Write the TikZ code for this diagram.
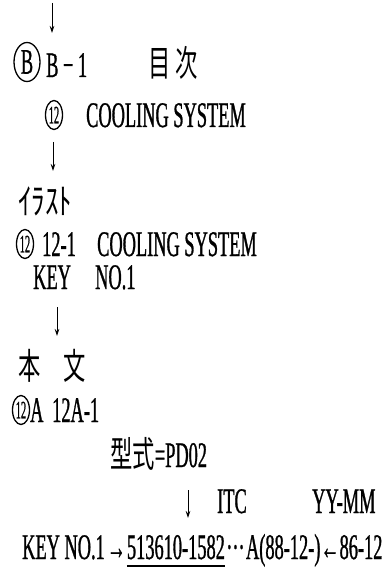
\documentclass[tikz,border=0pt]{standalone}
\usepackage{fontspec}
\setmainfont{Liberation Serif}[FakeStretch=0.51,FakeBold=0.8]
\newfontfamily\jpfont{Noto Sans CJK JP}[FakeStretch=0.62]
\newfontfamily\kanafont{Noto Sans CJK JP}[FakeStretch=0.75]
\newfontfamily\ringfont{Liberation Serif}[FakeStretch=0.42,FakeBold=0.6]
\usetikzlibrary{positioning,shapes.geometric,arrows.meta}
\newcommand\rowsize{\fontsize{36}{40}\selectfont}
\newcommand\ringsize{\ringfont\fontsize{25}{26}\selectfont}

\begin{document}
\begin{tikzpicture}[x=1pt,y=-1pt,
  txt/.style={anchor=base west,inner sep=0pt,font=\rowsize},
  jp/.style={anchor=base west,inner sep=0pt,font=\jpfont\rowsize},
  ring/.style={draw,ellipse,line width=1.3pt,inner sep=0pt,
               minimum width=17pt,minimum height=29pt,font=\ringsize},
  down/.style={-{Stealth[length=7pt,width=4.5pt]},line width=0.8pt}
]
  \useasboundingbox (0,0) rectangle (383,588);

  % contents page
  \coordinate (a1) at (52,3);
  \node[ring,minimum width=26pt,minimum height=39pt,font=\rowsize] (secB) at (27,62) {B};
  \node[txt] (bnum) at (46,77) {B − 1};
  \node[jp] (moku) at (148,77) {目};
  \node[jp,base right=5pt of moku] (ji) {次};
  \node[ring] (r1) at (54,115) {12};
  \node[txt] (cool1) at (86,127) {COOLING SYSTEM};
  \draw[down] (a1) -- ++(0,30);

  % illustration
  \coordinate (a2) at (53,142);
  \draw[down] (a2) -- ++(0,29);
  \node[jp,font=\kanafont\rowsize] (illust) at (18,214) {ｲﾗｽﾄ};
  \node[ring] (r2) at (25,244) {12};
  \node[txt] (fig) at (42,256) {12-1};
  \node[txt] (cool2) at (97,256) {COOLING SYSTEM};
  \node[txt] (key1) at (33,289) {KEY};
  \node[txt] (no1) at (95,289) {NO.1};

  % text body
  \coordinate (a3) at (57,307);
  \draw[down] (a3) -- ++(0,29);
  \node[jp] (hon) at (18,379) {本};
  \node[jp] (bun) at (63,379) {文};
  \node[ring] (r3) at (21,410) {12};
  \node[txt] (r3a) at (30,422) {A};
  \node[txt] (page) at (52,422) {12A-1};
  \node[txt] (model) at (110,467) {{\jpfont 型式}=PD02};
  \coordinate (a4) at (188,490);
  \draw[down] (a4) -- ++(0,28);
  \node[txt] (itc) at (217,513) {ITC};
  \node[txt] (yymm) at (312,513) {YY-MM};

  % key number line
  \node[txt] (key2) at (22,559) {KEY NO.1};
  \node[txt,base right=2pt of key2] (to) {→};
  \node[txt,base right=1pt of to] (code) {513610-1582};
  \node[txt,base right=1pt of code] (dots) {···};
  \node[txt,base right=1pt of dots] (grade) {A(88-12-)};
  \node[txt,base right=0pt of grade] (from) {←};
  \node[txt,base right=0pt of from] (date) {86-12};
  \draw[line width=1.1pt] ([yshift=-7pt]code.base west) -- ([yshift=-7pt]code.base east);
\end{tikzpicture}
\end{document}
